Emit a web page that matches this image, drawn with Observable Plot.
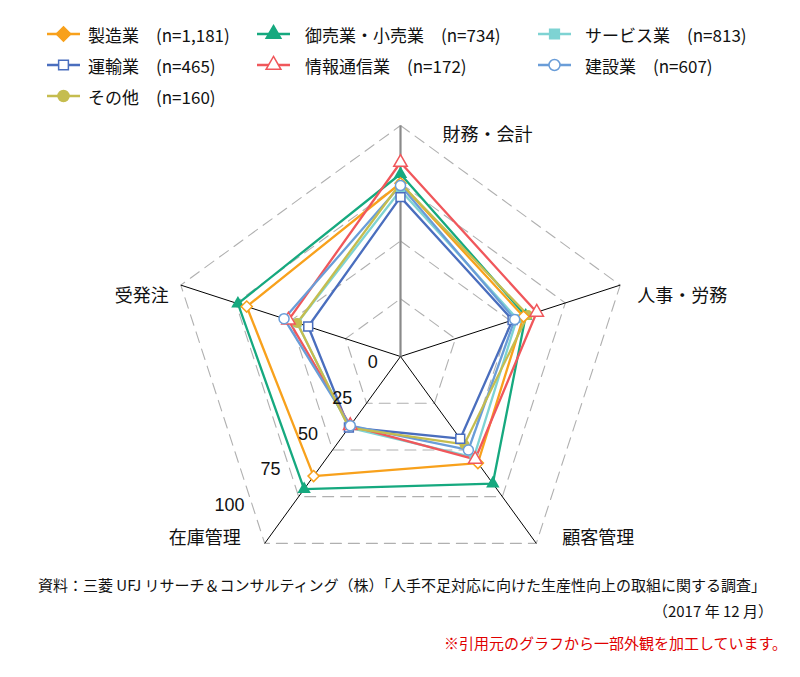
<!DOCTYPE html>
<html><head><meta charset="utf-8">
<script src="https://cdn.jsdelivr.net/npm/d3@7"></script>
<script src="https://cdn.jsdelivr.net/npm/@observablehq/plot@0.6"></script>
<style>
body{margin:0;background:#fff;}
#page{position:relative;width:800px;height:677px;font-family:"Noto Sans CJK JP","Noto Sans",sans-serif;color:#111;}
.leg{position:absolute;display:flex;align-items:center;font-size:17px;white-space:nowrap;}
.foot{position:absolute;white-space:nowrap;font-size:15px;line-height:1;}
</style></head>
<body><div id="page">
<div id="legend" style="position:absolute;left:0;top:0;width:800px;height:115px"></div>
<div id="chart" style="position:absolute;left:0;top:115px"></div>
<div class="foot" style="left:38px;top:577px">資料：三菱 UFJ リサーチ＆コンサルティング（株）「人手不足対応に向けた生産性向上の取組に関する調査」</div>
<div class="foot" style="right:27px;top:603px">（2017 年 12 月）</div>
<div class="foot" style="right:13px;top:635px;color:#e00000;font-size:15px">※引用元のグラフから一部外観を加工しています。</div>
</div>
<script>
const categories = ["財務・会計","人事・労務","顧客管理","在庫管理","受発注"];
const seriesNames = ["製造業","御売業・小売業","サービス業","運輸業","情報通信業","建設業","その他"];
const seriesN = ["1,181","734","813","465","172","607","160"];
const manufacturing = [75,56,57,64,70];
const wholesaleRetail = [79,57,68,71,74];
const services = [72,53,54,38,47];
const transport = [69,51,44,38,42];
const infoComm = [84,62,55,37,51];
const construction = [74,52,50,37,53];
const others = [75,58,47,38,47];
const ticks = [0,25,50,75,100];

const seriesValues = [manufacturing, wholesaleRetail, services, transport, infoComm, construction, others];
const colors = ["#F8A11C","#16A97F","#7ED3D3","#4A6EBE","#F0575B","#6A9DD8","#C5BD4F"];
const symbols = ["diamond2","triangle","square","square","triangle","circle","circle"];
const hollowChart = [true,false,false,true,true,true,false];
const hollowLegend = [false,false,false,true,true,true,false];

const ang = i => i * 2 * Math.PI / categories.length;
const px = (v,i) => v * Math.sin(ang(i));
const py = (v,i) => v * Math.cos(ang(i));

const rows = seriesNames.flatMap((s,k) => categories.map((c,i) => ({series:s, k, i, v: seriesValues[k][i]})));
const grid = ticks.filter(t => t > 0).flatMap(t => categories.map((c,i) => ({t, i})));
const spokes = categories.map((c,i) => ({c, i}));

const labelLayout = [
  {anchor:"start", dx:42, dy:10},
  {anchor:"start", dx:17, dy:11},
  {anchor:"start", dx:26, dy:-5},
  {anchor:"end", dx:-24, dy:-5},
  {anchor:"end", dx:-12, dy:11}
];

const cx = 400, cy = 241, R = 231;
const marks = [
  Plot.line(grid, {x: d=>px(d.t,d.i), y: d=>py(d.t,d.i), z:"t", curve:"linear-closed", stroke:"#b0b0b0", strokeWidth:1.1, strokeDasharray:"11,7"}),
  Plot.link(spokes.filter(d=>d.i>0), {x1:0, y1:0, x2: d=>px(100,d.i), y2: d=>py(100,d.i), stroke:"#000", strokeWidth:1}),
  Plot.link(spokes.filter(d=>d.i===0), {x1:0, y1:0, x2: d=>px(100,d.i), y2: d=>py(100,d.i), stroke:"#8a8a8a", strokeWidth:2.2}),
  Plot.line(rows, {x: d=>px(d.v,d.i), y: d=>py(d.v,d.i), z:"series", stroke:"series", curve:"linear-closed", strokeWidth:2.3}),
  Plot.dot(rows.filter(d=>!hollowChart[d.k]), {x: d=>px(d.v,d.i), y: d=>py(d.v,d.i), fill:"series", symbol:"series", r:5}),
  Plot.dot(rows.filter(d=>hollowChart[d.k]), {x: d=>px(d.v,d.i), y: d=>py(d.v,d.i), fill:"white", stroke:"series", symbol:"series", r:5, strokeWidth:1.5}),
  Plot.text(ticks, {x: v => -12 - 0.5*v - 0.0012*v*v, y: v => -2.5 - 0.62*v, text: v => String(v), textAnchor:"middle", fontSize:18, fill:"#111", fontFamily:"Liberation Sans, Arial, sans-serif"}),
  ...categories.map((c,i) => Plot.text([c], {x: ()=>px(100,i), y: ()=>py(100,i), text: d=>d, textAnchor: labelLayout[i].anchor, dx: labelLayout[i].dx, dy: labelLayout[i].dy, fontSize:18, fill:"#111", fontFamily:"Noto Sans CJK JP, sans-serif"}))
];

const chart = Plot.plot({
  width: 800, height: 450, margin: 0,
  x: {domain:[-100,100], range:[cx-R, cx+R], axis:null},
  y: {domain:[-100,100], range:[cy+R, cy-R], axis:null},
  color: {domain: seriesNames, range: colors},
  symbol: {domain: seriesNames, range: symbols},
  style: {overflow:"visible", background:"transparent"},
  marks
});
document.getElementById("chart").appendChild(chart);

// legend
const colX = [[47,88],[257,305],[538,585]];
const rowY = [34,65,96];
const symMap = {diamond2:d3.symbolDiamond2, triangle:d3.symbolTriangle, square:d3.symbolSquare, circle:d3.symbolCircle};
const leg = document.getElementById("legend");
seriesNames.forEach((s,k) => {
  const col = k % 3, row = Math.floor(k / 3);
  const item = document.createElement("div");
  item.className = "leg";
  item.style.left = colX[col][0] + "px";
  item.style.top = (rowY[row] - 12) + "px";
  item.style.height = "24px";
  const w = colX[col][1] - colX[col][0];
  const sym = symbols[k];
  const size = (sym==="diamond2"?6.5:5.5)**2*Math.PI;
  const path = d3.symbol(symMap[sym], size)();
  const fill = hollowLegend[k] ? "#fff" : colors[k];
  item.innerHTML = `<svg width="${w}" height="24" style="overflow:visible"><line x1="0" x2="33" y1="12" y2="12" stroke="${colors[k]}" stroke-width="2.5"/><path d="${path}" transform="translate(16.5,12)" fill="${fill}" stroke="${colors[k]}" stroke-width="1.5"/></svg><span>${s}　(n=${seriesN[k]})</span>`;
  leg.appendChild(item);
});
</script>
</body></html>
